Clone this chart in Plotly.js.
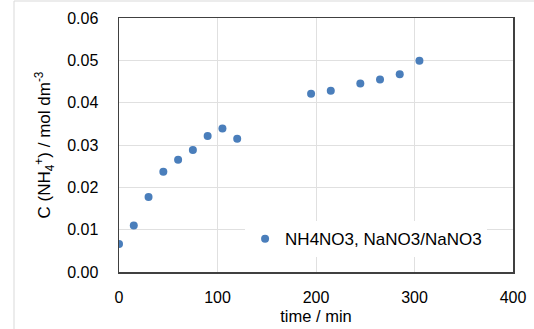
<!DOCTYPE html>
<html>
<head>
<meta charset="utf-8">
<script src="https://cdn.plot.ly/plotly-3.0.1.min.js"></script>
<style>
html,body{margin:0;padding:0;background:#fff;}
#chart{width:534px;height:329px;}
</style>
</head>
<body>
<div id="chart"></div>
<script>
const seriesName = "NH4NO3, NaNO3/NaNO3";
const timeMin = [0, 15, 30, 45, 60, 75, 90, 105, 120, 195, 215, 245, 265, 285, 305];
const concNH4 = [0.0066, 0.0110, 0.0177, 0.0237, 0.0265, 0.0288, 0.0321, 0.0339, 0.0315,
                 0.0421, 0.0428, 0.0445, 0.0455, 0.0467, 0.0499];
const xTicks = [0, 100, 200, 300, 400];
const yTicks = [0, 0.01, 0.02, 0.03, 0.04, 0.05, 0.06];

const fam = "Liberation Sans, Arial, sans-serif";

const trace = {
  x: timeMin, y: concNH4, type: "scatter", mode: "markers", name: seriesName,
  marker: {color: "#4a7ebb", size: 8}
};

const layout = {
  width: 534, height: 329,
  margin: {l: 119, r: 21, t: 18, b: 57, pad: 0},
  paper_bgcolor: "#fff", plot_bgcolor: "#fff",
  font: {family: fam, size: 16, color: "#000"},
  showlegend: true,
  legend: {x: 0.32, xanchor: "left", y: 0.2, yanchor: "top",
           bgcolor: "#fff", borderwidth: 0, font: {family: fam, size: 17, color: "#000"}},
  xaxis: {
    range: [0, 400], tickvals: xTicks, ticktext: xTicks.map(String),
    showgrid: true, gridcolor: "#e0e0e0", gridwidth: 1,
    zeroline: false, showline: true, linecolor: "#404040", linewidth: 1.5, mirror: true,
    ticks: "outside", ticklen: 10, tickcolor: "rgba(0,0,0,0)",
    tickfont: {family: fam, size: 16, color: "#000"},
    title: {text: "time / min", font: {family: fam, size: 16.5, color: "#000"}, standoff: 5}
  },
  yaxis: {
    range: [0, 0.06], tickvals: yTicks, ticktext: yTicks.map(v => v.toFixed(2)),
    showgrid: true, gridcolor: "#e0e0e0", gridwidth: 1,
    zeroline: false, showline: true, linecolor: "#404040", linewidth: 1.5, mirror: true,
    ticks: "outside", ticklen: 16, tickcolor: "rgba(0,0,0,0)",
    tickfont: {family: fam, size: 16, color: "#000"},
    title: {text: "C (NH<sub>4</sub><sup>+</sup>) / mol dm<sup>-3</sup>",
            font: {family: fam, size: 17, color: "#000"}, standoff: 12}
  },
  shapes: [
    {type: "line", xref: "paper", yref: "paper", x0: (14-119)/394, x1: (14-119)/394,
     y0: -57/254, y1: 1+17/254, line: {color: "#d9d9d9", width: 1}},
    {type: "line", xref: "paper", yref: "paper", x0: (14-119)/394, x1: 1+21/394,
     y0: 1+17/254, y1: 1+17/254, line: {color: "#d9d9d9", width: 1}}
  ]
};

Plotly.newPlot("chart", [trace], layout, {displayModeBar: false, staticPlot: true});
</script>
</body>
</html>
